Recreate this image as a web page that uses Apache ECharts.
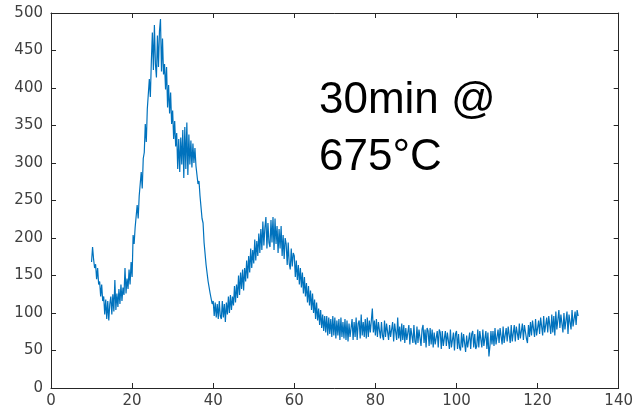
<!DOCTYPE html>
<html>
<head>
<meta charset="utf-8">
<script src="https://cdn.jsdelivr.net/npm/echarts@6/dist/echarts.min.js"></script>
<style>html,body{margin:0;padding:0;background:#fff}#c{width:636px;height:412px}</style>
</head>
<body>
<div id="c"></div>
<script>
// sample grid: first angle and spacing of the measured points
var xStart = 10;
var xStep = 0.25;
// intensity values, one per sample (x = 10 .. 130)
var intensity = [
168,188,172,160, 165,145,160,138, 142,122,138,116, 122,98,118,92, 116,90,112,122,
98,125,102,144, 104,126,108,132, 112,138,116,134, 124,160,126,146, 132,158,138,168,
148,204,192,214, 215,244,226,256, 258,288,266,306, 314,352,328,372, 374,412,388,436,
474,424,484,432, 414,470,428,476, 492,422,466,418, 432,398,428,374, 404,366,394,352,
370,332,356,322, 340,292,332,288, 334,298,344,280, 348,292,354,284, 338,298,330,294,
326,300,320,296, 296,272,276,256, 254,226,220,194, 192,164,164,142, 144,126,126,112,
116,96,114,94, 112,92,116,96, 92,116,94,112, 88,114,98,122, 100,124,104,122,
110,136,114,138, 120,150,124,154, 132,158,130,160, 142,170,146,176, 154,186,160,184,
166,198,170,196, 176,206,180,212, 184,222,190,214, 228,186,220,194, 188,224,194,228,
184,226,192,216, 180,212,186,216, 176,204,172,200, 192,164,194,166, 158,186,162,180,
176,148,170,144, 164,138,160,134, 154,126,148,122, 140,114,136,110, 130,104,126,100,
118,92,114,90, 106,84,104,80, 98,76,96,74, 96,70,94,72, 92,68,96,70,
94,66,90,70, 92,64,94,68, 88,66,92,64, 90,62,86,68, 66,92,64,88,
68,94,64,86, 90,66,98,70, 88,68,92,66, 94,68,90,74, 72,106,74,90,
70,92,68,88, 90,66,88,70, 64,90,68,86, 88,64,84,68, 66,88,62,86,
84,64,94,66, 82,62,86,64, 84,60,80,64, 62,84,58,80, 80,60,84,62,
58,82,60,78, 80,56,78,84, 60,78,54,80, 76,56,80,58, 78,54,74,58,
56,76,54,78, 74,52,76,56, 54,76,56,74, 72,52,78,54, 56,74,50,72,
76,52,72,54, 50,74,54,72, 72,48,70,54, 54,74,52,72, 76,54,72,52,
56,78,54,76, 74,54,78,56, 58,76,52,74, 42,56,76,58, 76,56,80,58,
58,78,60,80, 78,58,82,60, 60,80,62,82, 80,60,84,62, 64,84,62,82,
82,64,86,66, 66,86,64,84, 86,66,60,84, 68,88,70,90, 88,68,92,70,
70,90,72,94, 92,70,96,74, 72,94,74,96, 94,72,98,74, 96,70,102,78,
76,104,80,98, 98,74,100,78, 78,102,72,98, 100,78,104,82, 80,102,84,104,
96
];
var xTicks = [0, 20, 40, 60, 80, 100, 120, 140];
var yTicks = [0, 50, 100, 150, 200, 250, 300, 350, 400, 450, 500];
var annotation = '30min @\n675°C';

var points = intensity.map(function (v, i) { return [xStart + i * xStep, v]; });

var chart = echarts.init(document.getElementById('c'), null, {renderer: 'canvas'});
var axisCol = '#262626';
var labCol = '#404040';
var fontFam = 'DejaVu Sans';
function xAx(pos, show) {
  return {
    type: 'value', position: pos, min: xTicks[0], max: xTicks[xTicks.length - 1], interval: 20,
    axisLine: {show: true, onZero: false, lineStyle: {color: axisCol, width: 1}},
    axisTick: {show: true, inside: true, length: 5, lineStyle: {color: axisCol}},
    axisLabel: {show: show, color: labCol, fontSize: 15, fontFamily: fontFam, margin: 6},
    splitLine: {show: false}
  };
}
function yAx(pos, show) {
  return {
    type: 'value', position: pos, min: yTicks[0], max: yTicks[yTicks.length - 1], interval: 50,
    axisLine: {show: true, onZero: false, lineStyle: {color: axisCol, width: 1}},
    axisTick: {show: true, inside: true, length: 5, lineStyle: {color: axisCol}},
    axisLabel: {show: show, color: labCol, fontSize: 15, fontFamily: fontFam, margin: 8},
    splitLine: {show: false}
  };
}
chart.setOption({
  animation: false,
  backgroundColor: '#fff',
  grid: {left: 51, right: 17, top: 13, bottom: 24, containLabel: false},
  xAxis: [xAx('bottom', true), xAx('top', false)],
  yAxis: [yAx('left', true), yAx('right', false)],
  series: [{
    type: 'line', xAxisIndex: 0, yAxisIndex: 0,
    data: points, showSymbol: false, symbol: 'none',
    lineStyle: {color: '#0072BD', width: 1.2},
    itemStyle: {color: '#0072BD'}
  }],
  graphic: [{
    type: 'text', left: 319, top: 72,
    style: {text: annotation, fill: '#000', font: '44px "Liberation Sans"', lineHeight: 57}
  }]
});
</script>
</body>
</html>
